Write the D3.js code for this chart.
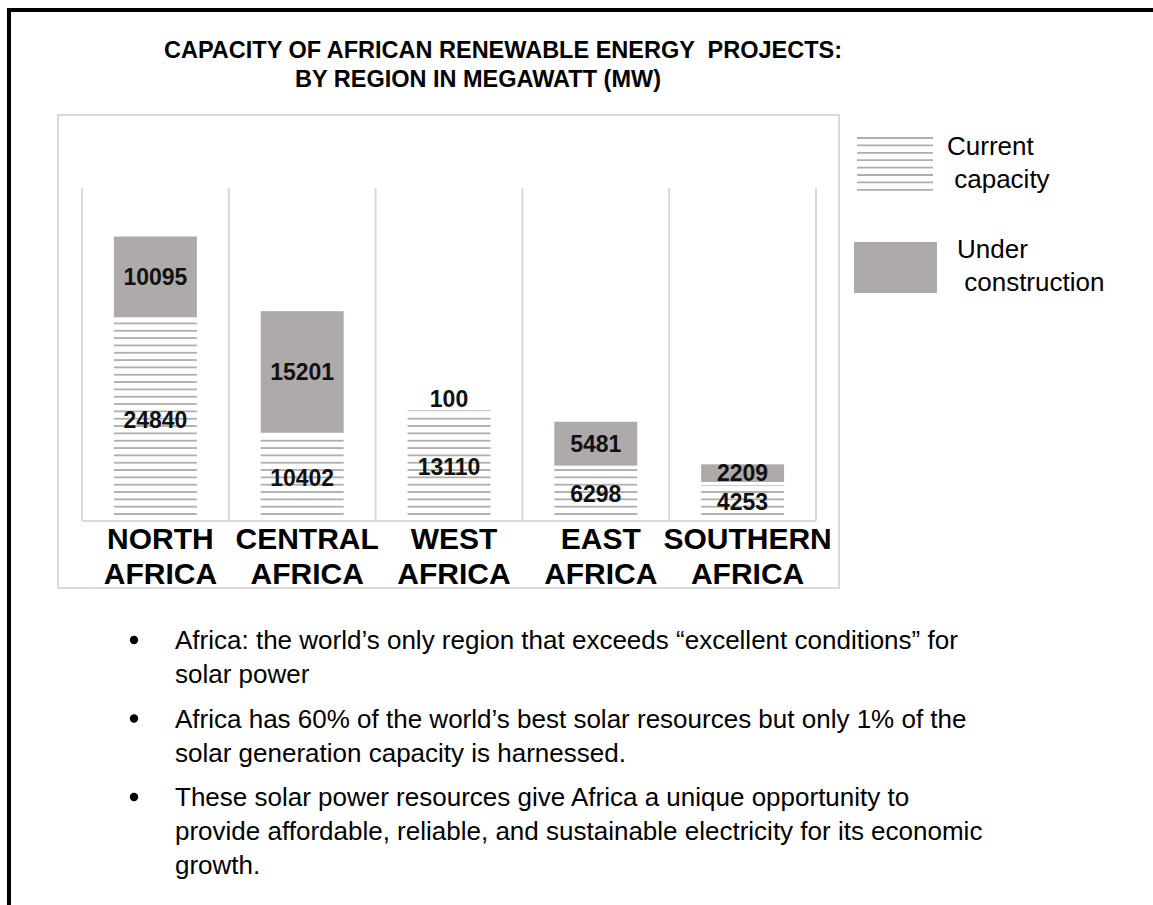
<!DOCTYPE html>
<html>
<head>
<meta charset="utf-8">
<script src="https://cdn.jsdelivr.net/npm/d3@7"></script>
<style>
  html, body { margin: 0; padding: 0; background: #fff; }
  svg { display: block; font-family: "Liberation Sans", Arial, sans-serif; }
  text { white-space: pre; }
</style>
</head>
<body>
<svg id="chart" width="1153" height="905"></svg>
<script>
// ---------- data ----------
const titleLines = ["CAPACITY OF AFRICAN RENEWABLE ENERGY  PROJECTS:", "BY REGION IN MEGAWATT (MW)"];
const regions = ["NORTH AFRICA", "CENTRAL AFRICA", "WEST AFRICA", "EAST AFRICA", "SOUTHERN AFRICA"];
const regionLabelLines = [["NORTH", "AFRICA"], ["CENTRAL", "AFRICA"], ["WEST", "AFRICA"], ["EAST", "AFRICA"], ["SOUTHERN", "AFRICA"]];
const currentCapacity = [24840, 10402, 13110, 6298, 4253];
const underConstruction = [10095, 15201, 100, 5481, 2209];
const legendLabels = [["Current", " capacity"], ["Under", " construction"]];
const bulletPoints = [
  ["Africa: the world\u2019s only region that exceeds \u201cexcellent conditions\u201d for", "solar power"],
  ["Africa has 60% of the world\u2019s best solar resources but only 1% of the", "solar generation capacity is harnessed."],
  ["These solar power resources give Africa a unique opportunity to", "provide affordable, reliable, and sustainable electricity for its economic", "growth."]
];

// ---------- layout ----------
const svg = d3.select("#chart");
const HATCH = "#b1adad", UC = "#aeaaaa", FRAME = "#d9d9d9";

// outer black frame (extends beyond right/bottom edges)
svg.append("rect").attr("x", 9).attr("y", 10).attr("width", 1160).attr("height", 920)
  .attr("fill", "none").attr("stroke", "#000").attr("stroke-width", 4);

// title
svg.selectAll("text.title").data(titleLines).join("text")
  .attr("class", "title")
  .attr("x", (d, i) => i === 0 ? 503 : 478)
  .attr("y", (d, i) => 58 + i * 29)
  .attr("text-anchor", "middle")
  .attr("font-size", 23.5).attr("font-weight", "bold").attr("fill", "#000")
  .text(d => d);

// chart box
svg.append("rect").attr("x", 58).attr("y", 115).attr("width", 781).attr("height", 473)
  .attr("fill", "none").attr("stroke", FRAME).attr("stroke-width", 2);

const x = d3.scaleBand().domain(regions).range([82, 816]).padding(0);
const y = d3.scaleLinear().domain([0, 42000]).range([519, 183]);
const barW = x.bandwidth() * 0.565;
const gap = 3;

// hatch pattern
const defs = svg.append("defs");
const pat = defs.append("pattern").attr("id", "hatch").attr("patternUnits", "userSpaceOnUse")
  .attr("x", 0).attr("y", 513.1).attr("width", 20).attr("height", 7.33);
pat.append("rect").attr("x", 0).attr("y", 0).attr("width", 20).attr("height", 1.8).attr("fill", HATCH);

// inner frame: separators and baseline
const sepX = regions.map(r => x(r)).concat([x.range()[1]]);
svg.selectAll("line.sep").data(sepX).join("line").attr("class", "sep")
  .attr("x1", d => d).attr("x2", d => d).attr("y1", 188).attr("y2", 521)
  .attr("stroke", FRAME).attr("stroke-width", 2);
svg.append("line").attr("x1", x.range()[0]).attr("x2", x.range()[1]).attr("y1", 521).attr("y2", 521)
  .attr("stroke", FRAME).attr("stroke-width", 2);

const rows = regions.map((r, i) => ({ region: r, cur: currentCapacity[i], uc: underConstruction[i], lines: regionLabelLines[i] }));
const cx = d => x(d.region) + x.bandwidth() / 2;

// current capacity (hatched)
svg.selectAll("rect.cur").data(rows).join("rect").attr("class", "cur")
  .attr("x", d => cx(d) - barW / 2).attr("width", barW)
  .attr("y", d => y(d.cur)).attr("height", d => y(0) - y(d.cur))
  .attr("fill", "url(#hatch)");

// under construction (gray)
svg.selectAll("rect.uc").data(rows).join("rect").attr("class", "uc")
  .attr("x", d => cx(d) - barW / 2).attr("width", barW)
  .attr("y", d => y(d.cur + d.uc) - gap).attr("height", d => y(d.cur) - y(d.cur + d.uc))
  .attr("fill", UC);

// value labels
svg.selectAll("text.curLbl").data(rows).join("text").attr("class", "curLbl")
  .attr("x", cx).attr("y", d => (y(0) + y(d.cur)) / 2).attr("dy", "0.36em")
  .attr("text-anchor", "middle").attr("font-size", 23).attr("font-weight", "bold").attr("fill", "#111")
  .text(d => d.cur);
svg.selectAll("text.ucLbl").data(rows).join("text").attr("class", "ucLbl")
  .attr("x", cx)
  .attr("y", d => {
    const top = y(d.cur + d.uc) - gap, bot = y(d.cur) - gap;
    return (bot - top) < 6 ? top - 3 : (top + bot) / 2;
  })
  .attr("dy", d => (y(d.cur) - y(d.cur + d.uc)) < 6 ? "0em" : "0.36em")
  .attr("text-anchor", "middle").attr("font-size", 23).attr("font-weight", "bold").attr("fill", "#111")
  .text(d => d.uc);

// category labels
const catG = svg.selectAll("g.cat").data(rows).join("g").attr("class", "cat");
catG.selectAll("text").data(d => d.lines.map((t, j) => ({ t, j, d }))).join("text")
  .attr("x", e => cx(e.d) + 5).attr("y", e => 549 + e.j * 35)
  .attr("text-anchor", "middle").attr("font-size", 30).attr("font-weight", "bold").attr("fill", "#000")
  .text(e => e.t);

// legend
const legG = svg.append("g");
legG.selectAll("line.lh").data(d3.range(8)).join("line").attr("class", "lh")
  .attr("x1", 857).attr("x2", 933).attr("y1", i => 138 + i * 7.4).attr("y2", i => 138 + i * 7.4)
  .attr("stroke", HATCH).attr("stroke-width", 1.8);
legG.append("rect").attr("x", 854).attr("y", 242).attr("width", 83).attr("height", 51).attr("fill", UC);
const legPos = [[947, 155], [947, 188], [957, 258], [957, 291]];
legendLabels.flat().forEach((t, i) => {
  legG.append("text").attr("x", legPos[i][0]).attr("y", legPos[i][1])
    .attr("font-size", 26).attr("fill", "#000").text(t);
});

// bullet points
const bulletG = svg.append("g");
let baseY = 649;
bulletPoints.forEach((lines, bi) => {
  bulletG.append("circle").attr("cx", 134).attr("cy", baseY - 9).attr("r", 4.2).attr("fill", "#000");
  lines.forEach((ln, li) => {
    bulletG.append("text").attr("x", 175).attr("y", baseY + li * 34)
      .attr("font-size", 26).attr("fill", "#000").text(ln);
  });
  baseY += lines.length * 34 + 10.5;
});
</script>
</body>
</html>
